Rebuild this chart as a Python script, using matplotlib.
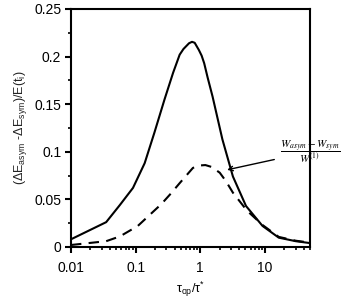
import matplotlib
matplotlib.use('Agg')
import matplotlib.pyplot as plt
from matplotlib.ticker import FixedLocator, FixedFormatter, LogLocator, NullFormatter, MultipleLocator

plt.rcParams['font.family'] = ['Liberation Sans', 'DejaVu Sans']
plt.rcParams['mathtext.fontset'] = 'custom'
plt.rcParams['mathtext.rm'] = 'Liberation Sans'
plt.rcParams['mathtext.it'] = 'Liberation Sans:italic'

# values
x_solid = [0.01, 0.035, 0.057, 0.091, 0.138, 0.195, 0.28, 0.38, 0.48, 0.55, 0.67, 0.745,
           0.82, 0.95, 1.05, 1.15, 1.3, 1.55, 2.2, 3.2, 5.1, 9.2, 16.4, 30, 50]
y_solid = [0.008, 0.026, 0.044, 0.062, 0.088, 0.12, 0.155, 0.183, 0.202, 0.208, 0.214, 0.2155,
           0.2145, 0.207, 0.201, 0.193, 0.178, 0.158, 0.113, 0.074, 0.043, 0.022, 0.0097, 0.006, 0.004]

x_dash = [0.01, 0.035, 0.057, 0.108, 0.25, 0.35, 0.48, 0.77, 0.95, 1.2, 1.5, 2.0, 2.5, 3.2, 5.3,
          9.2, 16.4, 30, 50]
y_dash = [0.002, 0.006, 0.011, 0.022, 0.045, 0.056, 0.067, 0.083, 0.0855, 0.086, 0.084, 0.078, 0.069, 0.057, 0.038,
          0.023, 0.0105, 0.0065, 0.0045]

xticks = [0.01, 0.1, 1, 10]
xticklabels = ['0.01', '0.1', '1', '10']
yticks = [0, 0.05, 0.1, 0.15, 0.2, 0.25]
yticklabels = ['0', '0.05', '0.1', '0.15', '0.2', '0.25']

fig = plt.figure(figsize=(3.43, 3.0), dpi=100)
ax = fig.add_axes([0.207, 0.177, 0.697, 0.793])

ax.plot(x_solid, y_solid, color='black', lw=1.5)
ax.plot(x_dash, y_dash, color='black', lw=1.5, dashes=(5, 3.5))

ax.set_xscale('log')
ax.set_xlim(0.01, 50)
ax.set_ylim(0, 0.25)

ax.xaxis.set_major_locator(FixedLocator(xticks))
ax.xaxis.set_major_formatter(FixedFormatter(xticklabels))
ax.xaxis.set_minor_locator(LogLocator(base=10, subs=range(2, 10)))
ax.xaxis.set_minor_formatter(NullFormatter())
ax.yaxis.set_major_locator(FixedLocator(yticks))
ax.yaxis.set_major_formatter(FixedFormatter(yticklabels))
ax.yaxis.set_minor_locator(MultipleLocator(0.025))

ax.tick_params(which='major', direction='out', length=4.5, width=1.5, labelsize=10)
ax.tick_params(which='minor', direction='out', length=2.5, width=1.2)
ax.tick_params(axis='x', which='major', pad=6)
ax.tick_params(axis='y', which='major', pad=2.5)
for s in ax.spines.values():
    s.set_linewidth(1.5)

ax.set_xlabel(r'$\mathregular{\tau_{op}/\tau^{*}}$', fontsize=9, labelpad=3)
ax.set_ylabel(r'$\mathregular{(\Delta E_{asym}\ \text{-}\Delta E_{sym})/E(t_{i})}$', fontsize=9,
              labelpad=4, color='#222222')

ax.annotate(r'$\dfrac{W_{asym}-W_{sym}}{W^{(1)}}$', xy=(2.6, 0.081), xytext=(17.0, 0.1),
            fontsize=8, ha='left', va='center', annotation_clip=False,
            arrowprops=dict(arrowstyle='->', color='black', lw=1.0, shrinkA=2, shrinkB=0))
ax.texts[-1].set_math_fontfamily('stix')

fig.savefig('out.png', dpi=100)
